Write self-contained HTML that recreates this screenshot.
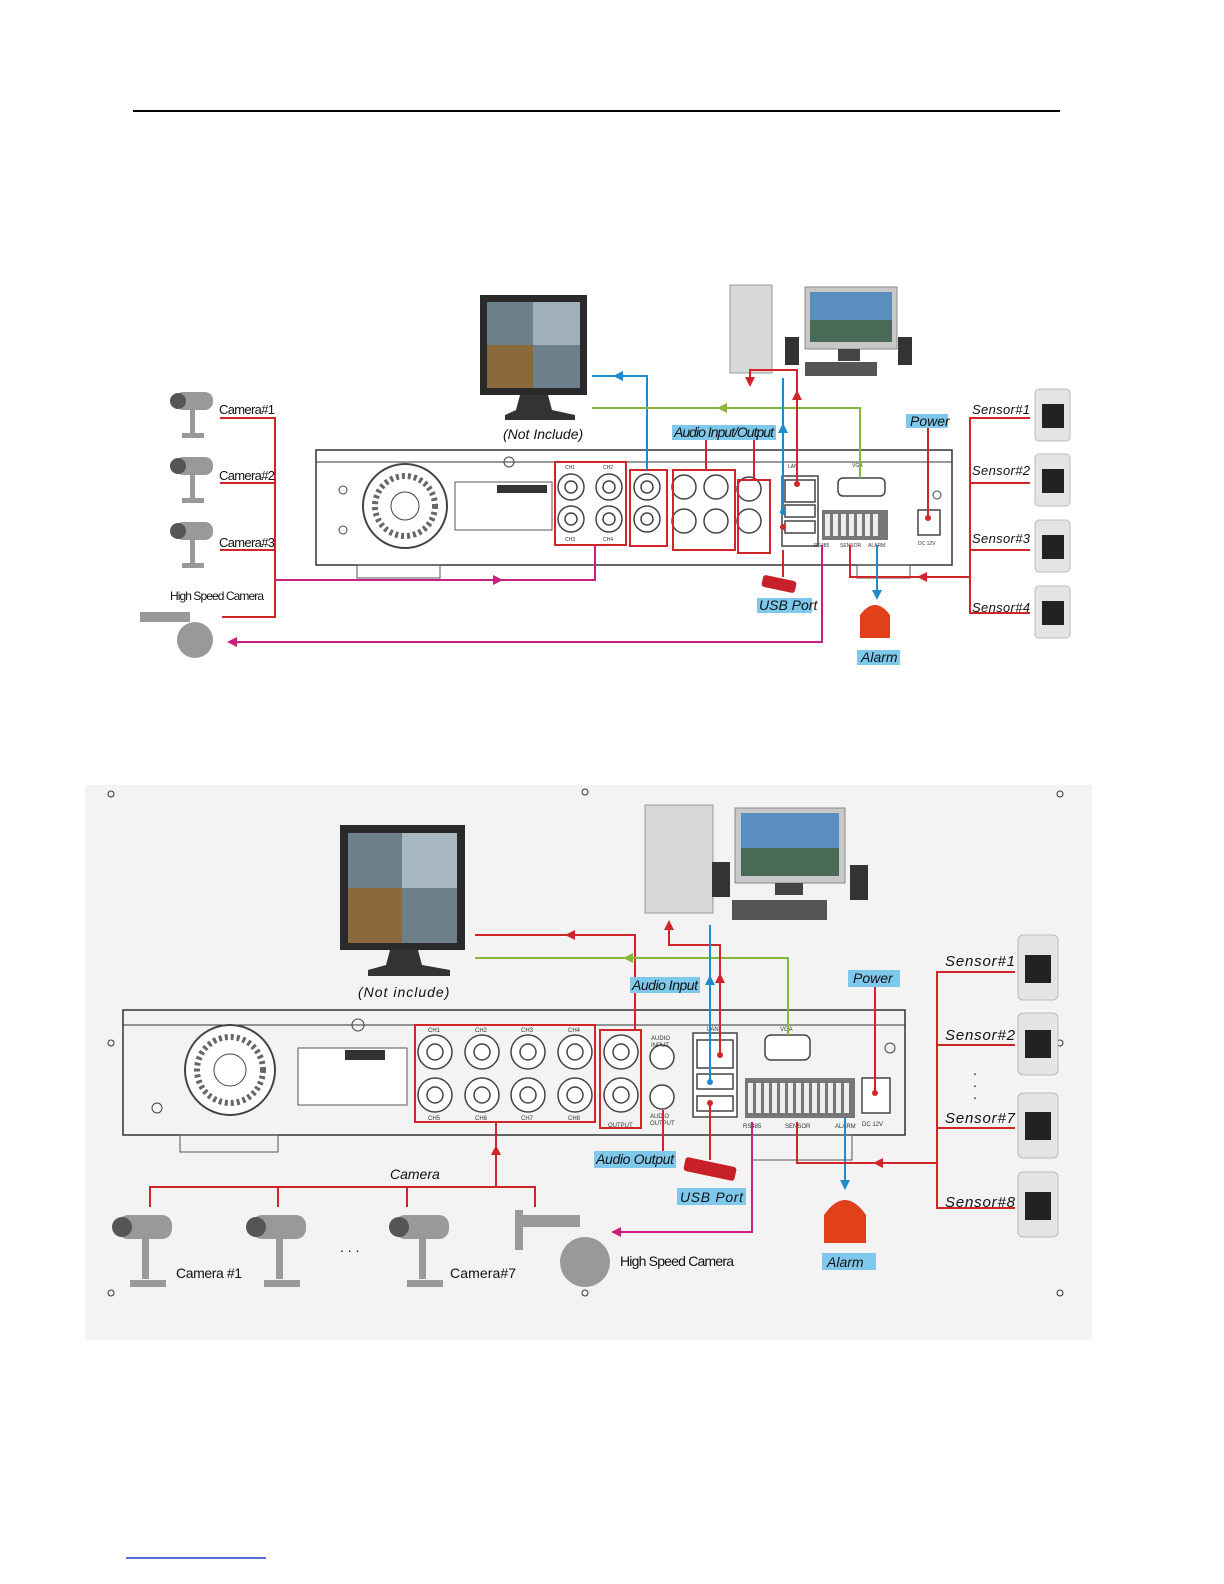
<!DOCTYPE html>
<html><head><meta charset="utf-8"><style>
html,body{margin:0;padding:0;background:#fff}
svg{display:block}
text{font-family:"Liberation Sans",sans-serif}
.lb{font-style:italic;font-size:14px;fill:#111}
</style></head><body>
<svg width="1224" height="1584" viewBox="0 0 1224 1584" xmlns="http://www.w3.org/2000/svg">
<defs>
<marker id="ar" viewBox="0 0 10 10" refX="5" refY="5" markerWidth="5" markerHeight="5" orient="auto"><path d="M0,0L10,5L0,10z" fill="#d0262a"/></marker>
<marker id="ab" viewBox="0 0 10 10" refX="5" refY="5" markerWidth="5" markerHeight="5" orient="auto"><path d="M0,0L10,5L0,10z" fill="#1e8ccc"/></marker>
<marker id="ag" viewBox="0 0 10 10" refX="5" refY="5" markerWidth="5" markerHeight="5" orient="auto"><path d="M0,0L10,5L0,10z" fill="#86b83c"/></marker>
<marker id="am" viewBox="0 0 10 10" refX="5" refY="5" markerWidth="5" markerHeight="5" orient="auto"><path d="M0,0L10,5L0,10z" fill="#c8207e"/></marker>
</defs>
<line x1="133" y1="111" x2="1060" y2="111" stroke="#000" stroke-width="2"/>

<!-- ============ DIAGRAM 1 ============ -->
<rect x="480" y="295" width="107" height="100" fill="#2a2a2a"/>
<rect x="487" y="302" width="93" height="86" fill="#6d7f8a"/>
<rect x="487" y="345" width="46" height="43" fill="#8a6a3c"/>
<rect x="533" y="302" width="47" height="43" fill="#9fb0b8"/>
<path d="M520,395 L548,395 L552,410 L575,415 L575,420 L505,420 L505,415 L516,410z" fill="#333"/>
<text x="503" y="439" class="lb">(Not Include)</text>
<rect x="730" y="285" width="42" height="88" fill="#d8d8d8" stroke="#999"/>
<rect x="805" y="287" width="92" height="62" fill="#c8c8c8" stroke="#888"/>
<rect x="810" y="292" width="82" height="50" fill="#5a8ec0"/>
<rect x="810" y="320" width="82" height="22" fill="#4a6a58"/>
<rect x="838" y="349" width="22" height="12" fill="#444"/>
<rect x="805" y="362" width="72" height="14" fill="#555"/>
<rect x="785" y="337" width="14" height="28" fill="#333"/>
<rect x="898" y="337" width="14" height="28" fill="#333"/>
<rect x="316" y="450" width="636" height="115" fill="#fff" stroke="#333" stroke-width="1.5"/>
<line x1="316" y1="462" x2="952" y2="462" stroke="#333"/>
<rect x="357" y="565" width="83" height="13" fill="none" stroke="#555"/>
<rect x="857" y="565" width="53" height="13" fill="none" stroke="#555"/>
<circle cx="405" cy="506" r="42" fill="none" stroke="#444" stroke-width="2"/>
<circle cx="405" cy="506" r="30" fill="none" stroke="#666" stroke-width="6" stroke-dasharray="3 3"/>
<circle cx="405" cy="506" r="14" fill="none" stroke="#444"/>
<rect x="455" y="482" width="97" height="48" fill="none" stroke="#555"/>
<rect x="497" y="485" width="50" height="8" fill="#333"/>
<circle cx="509" cy="462" r="5" fill="none" stroke="#444"/>
<circle cx="343" cy="490" r="4" fill="none" stroke="#444"/>
<circle cx="343" cy="530" r="4" fill="none" stroke="#444"/>
<circle cx="937" cy="495" r="4" fill="none" stroke="#444"/>
<g fill="#fff" stroke="#444" stroke-width="1.5">
<circle cx="571" cy="487" r="13"/><circle cx="609" cy="487" r="13"/><circle cx="571" cy="519" r="13"/><circle cx="609" cy="519" r="13"/>
<circle cx="647" cy="487" r="13"/><circle cx="647" cy="519" r="13"/>
<circle cx="684" cy="487" r="12"/><circle cx="716" cy="487" r="12"/><circle cx="684" cy="521" r="12"/><circle cx="716" cy="521" r="12"/>
<circle cx="749" cy="489" r="12"/><circle cx="749" cy="521" r="12"/>
<circle cx="571" cy="487" r="6"/><circle cx="609" cy="487" r="6"/><circle cx="571" cy="519" r="6"/><circle cx="609" cy="519" r="6"/><circle cx="647" cy="487" r="6"/><circle cx="647" cy="519" r="6"/>
<rect x="782" y="476" width="36" height="70"/>
<rect x="785" y="480" width="30" height="22"/><rect x="785" y="505" width="30" height="12"/><rect x="785" y="521" width="30" height="12"/>
<rect x="838" y="478" width="47" height="18" rx="5"/>
<rect x="918" y="510" width="22" height="25"/>
</g>
<rect x="822" y="510" width="66" height="30" fill="#777"/>
<g fill="#eee"><rect x="825" y="514" width="5" height="22"/><rect x="833" y="514" width="5" height="22"/><rect x="841" y="514" width="5" height="22"/><rect x="849" y="514" width="5" height="22"/><rect x="857" y="514" width="5" height="22"/><rect x="865" y="514" width="5" height="22"/><rect x="873" y="514" width="5" height="22"/></g>
<g font-size="5" fill="#333"><text x="565" y="469">CH1</text><text x="603" y="469">CH2</text><text x="565" y="541">CH3</text><text x="603" y="541">CH4</text><text x="814" y="547">RS485</text><text x="840" y="547">SENSOR</text><text x="868" y="547">ALARM</text><text x="918" y="545">DC 12V</text><text x="852" y="467">VGA</text><text x="788" y="468">LAN</text></g>
<g fill="none" stroke="#d0262a" stroke-width="2">
<rect x="555" y="462" width="71" height="83"/><rect x="630" y="470" width="37" height="76"/><rect x="673" y="470" width="62" height="80"/><rect x="738" y="480" width="32" height="73"/>
</g>
<g fill="none" stroke-width="2">
<polyline points="647,470 647,376 592,376" stroke="#1e8ccc"/>
<path d="M647,376 L618,376" stroke="#1e8ccc" marker-end="url(#ab)"/>
<polyline points="860,478 860,408 592,408" stroke="#86b83c"/>
<path d="M760,408 L722,408" stroke="#86b83c" marker-end="url(#ag)"/>
<polyline points="797,484 797,370 750,370 750,382" stroke="#d0262a" marker-end="url(#ar)"/>
<path d="M797,430 L797,395" stroke="#d0262a" marker-end="url(#ar)"/>
<polyline points="783,512 783,378" stroke="#1e8ccc"/>
<path d="M783,440 L783,428" stroke="#1e8ccc" marker-end="url(#ab)"/>
<polyline points="706,440 706,470" stroke="#d0262a"/><polyline points="754,440 754,480" stroke="#d0262a"/>
<polyline points="220,418 275,418 275,617 222,617" stroke="#d0262a"/>
<line x1="220" y1="483" x2="275" y2="483" stroke="#d0262a"/><line x1="220" y1="550" x2="275" y2="550" stroke="#d0262a"/>
<polyline points="275,580 595,580 595,546" stroke="#c8207e"/>
<path d="M470,580 L498,580" stroke="#c8207e" marker-end="url(#am)"/>
<polyline points="822,545 822,642 232,642" stroke="#c8207e" marker-end="url(#am)"/>
<line x1="928" y1="428" x2="928" y2="518" stroke="#d0262a"/>
<polyline points="1030,418 970,418 970,613 1030,613" stroke="#d0262a"/>
<line x1="970" y1="483" x2="1030" y2="483" stroke="#d0262a"/><line x1="970" y1="550" x2="1030" y2="550" stroke="#d0262a"/>
<polyline points="970,577 850,577 850,545" stroke="#d0262a"/>
<path d="M940,577 L922,577" stroke="#d0262a" marker-end="url(#ar)"/>
<polyline points="877,545 877,595" stroke="#1e8ccc" marker-end="url(#ab)"/>
<line x1="783" y1="550" x2="783" y2="577" stroke="#d0262a"/>
</g>
<circle cx="797" cy="484" r="3" fill="#d0262a"/><circle cx="783" cy="512" r="3" fill="#1e8ccc"/><circle cx="783" cy="527" r="3" fill="#d0262a"/><circle cx="928" cy="518" r="3" fill="#d0262a"/>
<rect x="672" y="425" width="104" height="15" fill="#7ec8ec"/><text x="674" y="437" class="lb" font-size="12" textLength="100">Audio Input/Output</text>
<rect x="906" y="414" width="42" height="14" fill="#7ec8ec"/><text x="910" y="426" class="lb" font-size="12">Power</text>
<rect x="757" y="598" width="55" height="15" fill="#7ec8ec"/><text x="759" y="610" class="lb" font-size="13">USB Port</text>
<rect x="857" y="650" width="43" height="15" fill="#7ec8ec"/><text x="861" y="662" class="lb" font-size="13">Alarm</text>
<g font-size="13" fill="#111"><text x="219" y="414" textLength="56">Camera#1</text><text x="219" y="480" textLength="56">Camera#2</text><text x="219" y="547" textLength="56">Camera#3</text><text x="170" y="600" font-size="12" textLength="94">High Speed Camera</text></g>
<g font-size="13" fill="#111" font-style="italic"><text x="972" y="414" textLength="58">Sensor#1</text><text x="972" y="475" textLength="58">Sensor#2</text><text x="972" y="543" textLength="58">Sensor#3</text><text x="972" y="612" textLength="58">Sensor#4</text></g>
<rect x="762" y="578" width="34" height="12" rx="3" fill="#c8202a" transform="rotate(12 779 584)"/>
<path d="M860,638 L860,615 Q875,595 890,615 L890,638z" fill="#e0401a"/>
<g fill="#999">
<rect x="175" y="392" width="38" height="18" rx="8"/><rect x="190" y="410" width="5" height="25"/><rect x="182" y="433" width="22" height="5"/>
<rect x="175" y="457" width="38" height="18" rx="8"/><rect x="190" y="475" width="5" height="25"/><rect x="182" y="498" width="22" height="5"/>
<rect x="175" y="522" width="38" height="18" rx="8"/><rect x="190" y="540" width="5" height="25"/><rect x="182" y="563" width="22" height="5"/>
<rect x="140" y="612" width="50" height="10"/><circle cx="195" cy="640" r="18"/>
</g>
<g fill="#555"><circle cx="178" cy="401" r="8"/><circle cx="178" cy="466" r="8"/><circle cx="178" cy="531" r="8"/></g>
<g fill="#e4e4e4" stroke="#bbb"><rect x="1035" y="389" width="35" height="52" rx="4"/><rect x="1035" y="454" width="35" height="52" rx="4"/><rect x="1035" y="520" width="35" height="52" rx="4"/><rect x="1035" y="586" width="35" height="52" rx="4"/></g>
<g fill="#222"><rect x="1042" y="404" width="22" height="24"/><rect x="1042" y="469" width="22" height="24"/><rect x="1042" y="535" width="22" height="24"/><rect x="1042" y="601" width="22" height="24"/></g>

<!-- ============ DIAGRAM 2 ============ -->
<rect x="85" y="785" width="1007" height="555" fill="#f3f3f3"/>
<g fill="none" stroke="#333"><circle cx="111" cy="794" r="3"/><circle cx="585" cy="792" r="3"/><circle cx="1060" cy="794" r="3"/><circle cx="111" cy="1043" r="3"/><circle cx="1060" cy="1043" r="3"/><circle cx="111" cy="1293" r="3"/><circle cx="585" cy="1293" r="3"/><circle cx="1060" cy="1293" r="3"/></g>
<rect x="340" y="825" width="125" height="125" fill="#2a2a2a"/>
<rect x="348" y="833" width="109" height="110" fill="#6d7f8a"/>
<rect x="348" y="888" width="54" height="55" fill="#8a6a3c"/>
<rect x="402" y="833" width="55" height="55" fill="#a8b8c0"/>
<path d="M390,950 L418,950 L422,965 L450,970 L450,976 L368,976 L368,970 L386,965z" fill="#333"/>
<text x="358" y="997" class="lb" font-size="16" letter-spacing="1">(Not include)</text>
<rect x="645" y="805" width="68" height="108" fill="#d8d8d8" stroke="#999"/>
<rect x="735" y="808" width="110" height="75" fill="#c8c8c8" stroke="#888"/>
<rect x="741" y="813" width="98" height="63" fill="#5a8ec0"/>
<rect x="741" y="848" width="98" height="28" fill="#4a6a58"/>
<rect x="775" y="883" width="28" height="12" fill="#444"/>
<rect x="732" y="900" width="95" height="20" fill="#555"/>
<rect x="712" y="862" width="18" height="35" fill="#333"/>
<rect x="850" y="865" width="18" height="35" fill="#333"/>
<rect x="123" y="1010" width="782" height="125" fill="#f3f3f3" stroke="#333" stroke-width="1.5"/>
<line x1="123" y1="1025" x2="905" y2="1025" stroke="#333"/>
<rect x="180" y="1135" width="98" height="17" fill="none" stroke="#555"/>
<rect x="752" y="1135" width="100" height="25" fill="none" stroke="#555"/>
<circle cx="230" cy="1070" r="45" fill="#fff" stroke="#444" stroke-width="2"/>
<circle cx="230" cy="1070" r="33" fill="none" stroke="#666" stroke-width="6" stroke-dasharray="3 3"/>
<circle cx="230" cy="1070" r="16" fill="none" stroke="#444"/>
<rect x="298" y="1048" width="109" height="57" fill="#fff" stroke="#555"/>
<rect x="345" y="1050" width="40" height="10" fill="#333"/>
<circle cx="358" cy="1025" r="6" fill="none" stroke="#444"/>
<circle cx="157" cy="1108" r="5" fill="none" stroke="#444"/>
<circle cx="890" cy="1048" r="5" fill="none" stroke="#444"/>
<g fill="#fff" stroke="#444" stroke-width="1.5">
<circle cx="435" cy="1052" r="17"/><circle cx="482" cy="1052" r="17"/><circle cx="528" cy="1052" r="17"/><circle cx="575" cy="1052" r="17"/>
<circle cx="435" cy="1095" r="17"/><circle cx="482" cy="1095" r="17"/><circle cx="528" cy="1095" r="17"/><circle cx="575" cy="1095" r="17"/>
<circle cx="621" cy="1052" r="17"/><circle cx="621" cy="1095" r="17"/>
<circle cx="662" cy="1057" r="12"/><circle cx="662" cy="1097" r="12"/>
<circle cx="435" cy="1052" r="8"/><circle cx="482" cy="1052" r="8"/><circle cx="528" cy="1052" r="8"/><circle cx="575" cy="1052" r="8"/>
<circle cx="435" cy="1095" r="8"/><circle cx="482" cy="1095" r="8"/><circle cx="528" cy="1095" r="8"/><circle cx="575" cy="1095" r="8"/>
<circle cx="621" cy="1052" r="8"/><circle cx="621" cy="1095" r="8"/>
<rect x="693" y="1033" width="44" height="84"/>
<rect x="697" y="1040" width="36" height="28"/><rect x="697" y="1074" width="36" height="15"/><rect x="697" y="1096" width="36" height="15"/>
<rect x="765" y="1035" width="45" height="25" rx="6"/>
<rect x="862" y="1078" width="28" height="35"/>
</g>
<rect x="745" y="1078" width="110" height="40" fill="#777"/>
<g fill="#eee"><rect x="748" y="1083" width="5" height="30"/><rect x="756" y="1083" width="5" height="30"/><rect x="764" y="1083" width="5" height="30"/><rect x="772" y="1083" width="5" height="30"/><rect x="780" y="1083" width="5" height="30"/><rect x="788" y="1083" width="5" height="30"/><rect x="796" y="1083" width="5" height="30"/><rect x="804" y="1083" width="5" height="30"/><rect x="812" y="1083" width="5" height="30"/><rect x="820" y="1083" width="5" height="30"/><rect x="828" y="1083" width="5" height="30"/><rect x="836" y="1083" width="5" height="30"/><rect x="844" y="1083" width="5" height="30"/></g>
<g font-size="6" fill="#333"><text x="428" y="1032">CH1</text><text x="475" y="1032">CH2</text><text x="521" y="1032">CH3</text><text x="568" y="1032">CH4</text><text x="428" y="1120">CH5</text><text x="475" y="1120">CH6</text><text x="521" y="1120">CH7</text><text x="568" y="1120">CH8</text><text x="743" y="1128">RS485</text><text x="785" y="1128">SENSOR</text><text x="835" y="1128">ALARM</text><text x="862" y="1126">DC 12V</text><text x="780" y="1031">VGA</text><text x="707" y="1031">LAN</text><text x="651" y="1040">AUDIO</text><text x="651" y="1047">INPUT</text><text x="650" y="1118">AUDIO</text><text x="650" y="1125">OUTPUT</text><text x="608" y="1127">OUTPUT</text></g>
<g fill="none" stroke="#d0262a" stroke-width="2"><rect x="415" y="1025" width="180" height="97"/><rect x="600" y="1030" width="41" height="98"/></g>
<g fill="none" stroke-width="2">
<polyline points="635,1030 635,935 475,935" stroke="#d0262a"/>
<path d="M600,935 L570,935" stroke="#d0262a" marker-end="url(#ar)"/>
<polyline points="788,1035 788,958 475,958" stroke="#86b83c"/>
<path d="M660,958 L628,958" stroke="#86b83c" marker-end="url(#ag)"/>
<polyline points="720,1055 720,945 669,945 669,925" stroke="#d0262a" marker-end="url(#ar)"/>
<path d="M720,1000 L720,978" stroke="#d0262a" marker-end="url(#ar)"/>
<polyline points="710,1082 710,925" stroke="#1e8ccc"/>
<path d="M710,1000 L710,980" stroke="#1e8ccc" marker-end="url(#ab)"/>
<line x1="663" y1="1110" x2="663" y2="1151" stroke="#d0262a"/>
<line x1="875" y1="987" x2="875" y2="1093" stroke="#d0262a"/>
<line x1="710" y1="1103" x2="710" y2="1160" stroke="#d0262a"/>
<polyline points="845,1118 845,1185" stroke="#1e8ccc" marker-end="url(#ab)"/>
<polyline points="752,1122 752,1232 616,1232" stroke="#c8207e" marker-end="url(#am)"/>
<polyline points="1015,972 937,972 937,1208 1015,1208" stroke="#d0262a"/>
<line x1="937" y1="1045" x2="1015" y2="1045" stroke="#d0262a"/><line x1="937" y1="1128" x2="1015" y2="1128" stroke="#d0262a"/>
<polyline points="937,1163 797,1163 797,1122" stroke="#d0262a"/>
<path d="M900,1163 L878,1163" stroke="#d0262a" marker-end="url(#ar)"/>
<polyline points="150,1207 150,1187 535,1187 535,1207" stroke="#d0262a"/>
<line x1="278" y1="1187" x2="278" y2="1207" stroke="#d0262a"/><line x1="407" y1="1187" x2="407" y2="1207" stroke="#d0262a"/>
<line x1="496" y1="1187" x2="496" y2="1122" stroke="#d0262a"/>
<path d="M496,1165 L496,1150" stroke="#d0262a" marker-end="url(#ar)"/>
</g>
<circle cx="720" cy="1055" r="3" fill="#d0262a"/><circle cx="710" cy="1082" r="3" fill="#1e8ccc"/><circle cx="710" cy="1103" r="3" fill="#d0262a"/><circle cx="875" cy="1093" r="3" fill="#d0262a"/>
<rect x="630" y="977" width="70" height="16" fill="#7ec8ec"/><text x="632" y="990" class="lb" font-size="14" textLength="66">Audio Input</text>
<rect x="594" y="1151" width="82" height="17" fill="#7ec8ec"/><text x="596" y="1164" class="lb" font-size="14" textLength="78">Audio Output</text>
<rect x="848" y="970" width="52" height="17" fill="#7ec8ec"/><text x="853" y="983" class="lb" font-size="14">Power</text>
<rect x="677" y="1188" width="69" height="17" fill="#7ec8ec"/><text x="680" y="1202" class="lb" font-size="15" textLength="63">USB Port</text>
<rect x="822" y="1253" width="54" height="17" fill="#7ec8ec"/><text x="827" y="1267" class="lb" font-size="15">Alarm</text>
<text x="390" y="1179" class="lb" font-size="17">Camera</text>
<g font-size="14" fill="#111"><text x="176" y="1278" textLength="66">Camera #1</text><text x="450" y="1278" textLength="66">Camera#7</text><text x="620" y="1266" textLength="114">High Speed Camera</text><text x="340" y="1252">. . .</text><text x="973" y="1075">.</text><text x="973" y="1087">.</text><text x="973" y="1099">.</text></g>
<g font-size="15" fill="#111" font-style="italic"><text x="945" y="966" textLength="70">Sensor#1</text><text x="945" y="1040" textLength="70">Sensor#2</text><text x="945" y="1123" textLength="70">Sensor#7</text><text x="945" y="1207" textLength="70">Sensor#8</text></g>
<rect x="684" y="1162" width="52" height="14" rx="3" fill="#c8202a" transform="rotate(12 710 1169)"/>
<path d="M824,1243 L824,1215 Q845,1185 866,1215 L866,1243z" fill="#e0401a"/>
<g fill="#999">
<rect x="118" y="1215" width="54" height="24" rx="10"/><rect x="142" y="1239" width="7" height="40"/><rect x="130" y="1280" width="36" height="7"/>
<rect x="252" y="1215" width="54" height="24" rx="10"/><rect x="276" y="1239" width="7" height="40"/><rect x="264" y="1280" width="36" height="7"/>
<rect x="395" y="1215" width="54" height="24" rx="10"/><rect x="419" y="1239" width="7" height="40"/><rect x="407" y="1280" width="36" height="7"/>
<rect x="515" y="1215" width="65" height="12"/><rect x="515" y="1210" width="8" height="40"/><circle cx="585" cy="1262" r="25"/>
</g>
<g fill="#555"><circle cx="122" cy="1227" r="10"/><circle cx="256" cy="1227" r="10"/><circle cx="399" cy="1227" r="10"/></g>
<g fill="#e4e4e4" stroke="#bbb"><rect x="1018" y="935" width="40" height="65" rx="5"/><rect x="1018" y="1013" width="40" height="62" rx="5"/><rect x="1018" y="1093" width="40" height="65" rx="5"/><rect x="1018" y="1172" width="40" height="65" rx="5"/></g>
<g fill="#222"><rect x="1025" y="955" width="26" height="28"/><rect x="1025" y="1030" width="26" height="28"/><rect x="1025" y="1112" width="26" height="28"/><rect x="1025" y="1192" width="26" height="28"/></g>

<line x1="126" y1="1558" x2="266" y2="1558" stroke="#2040c0" stroke-width="1.5"/>
</svg>
</body></html>
